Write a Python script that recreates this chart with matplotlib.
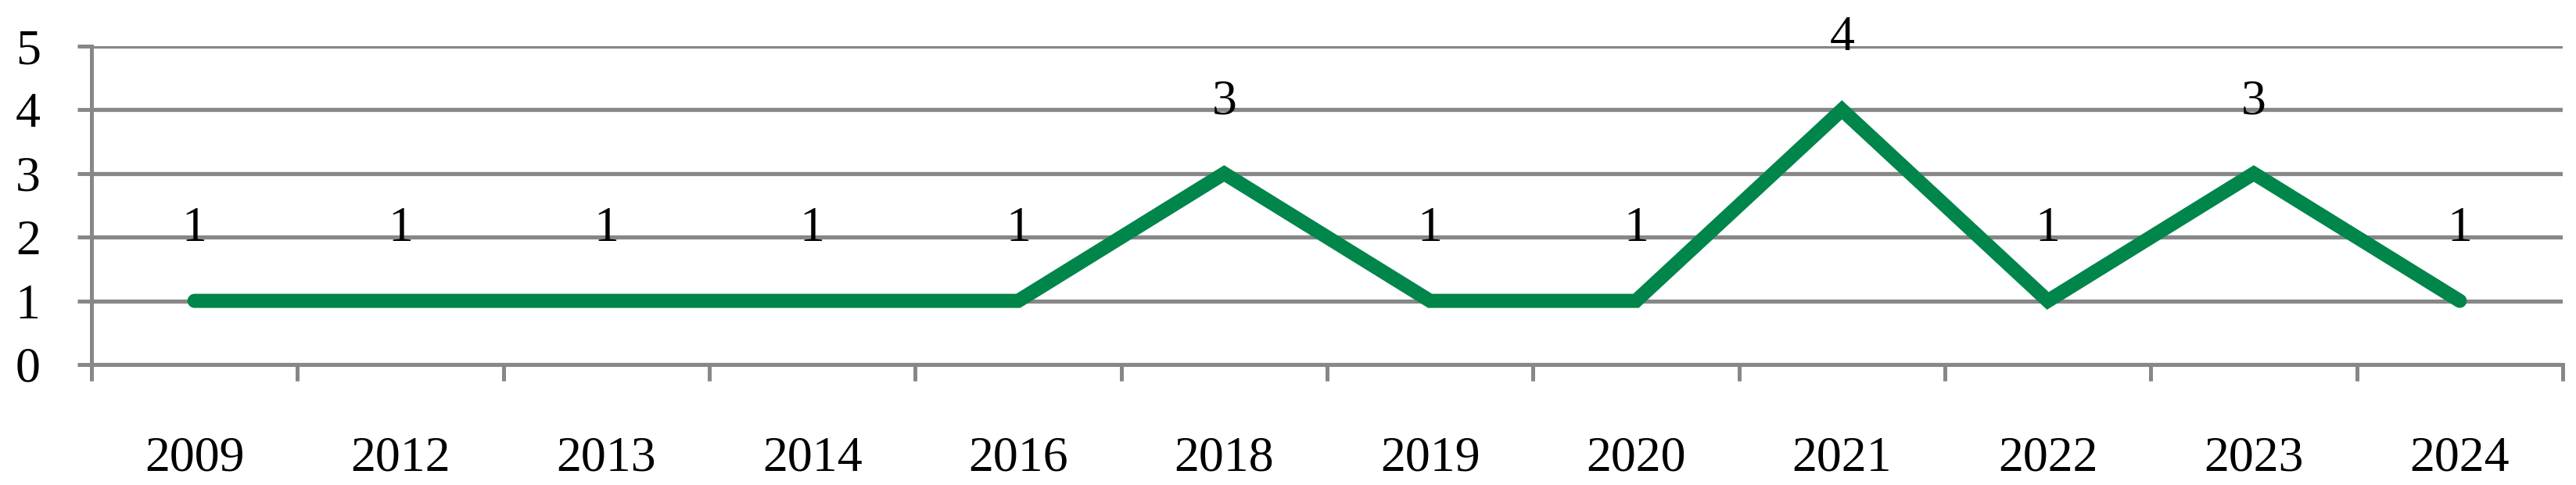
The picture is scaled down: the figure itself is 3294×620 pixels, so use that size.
import matplotlib.pyplot as plt
import numpy as np

# Data
years = ['2009', '2012', '2013', '2014', '2016', '2018', '2019', '2020', '2021', '2022', '2023', '2024']
counts = [1, 1, 1, 1, 1, 3, 1, 1, 4, 1, 3, 1]

plt.rcParams['font.family'] = ['Liberation Serif', 'DejaVu Serif']

grey = '#878787'
green = '#00854A'
fs = 46

fig = plt.figure(figsize=(32.94, 6.2), dpi=100)
ax = fig.add_axes([117/3294, 1 - 466/620, (3277 - 117)/3294, (466 - 59)/620])

x = np.arange(len(years))
ax.plot(x, counts, color=green, lw=13, solid_capstyle='round', solid_joinstyle='miter', zorder=3)

# Data labels above each point
for xi, v in zip(x, counts):
    ax.annotate(str(v), (xi, v), xytext=(0, 55), textcoords='offset points',
                ha='center', va='baseline', fontsize=fs, color='black')

ax.set_xlim(-0.5, len(years) - 0.5)
ax.set_ylim(0, 5)

# Category boundaries as major ticks, labels on minor ticks
ax.set_xticks(np.arange(-0.5, len(years)))
ax.set_xticklabels([])
ax.set_xticks(x, minor=True)
ax.set_xticklabels(years, minor=True)
ax.tick_params(axis='x', which='major', length=15, width=3.6, color=grey)
ax.tick_params(axis='x', which='minor', length=0, pad=66, labelsize=fs)

ax.set_yticks(range(0, 6))
ax.tick_params(axis='y', length=13, width=3.6, color=grey, pad=34, labelsize=fs)

ax.yaxis.grid(True, color=grey, lw=3.8)
ax.set_axisbelow(True)

for s in ['top', 'right']:
    ax.spines[s].set_visible(False)
for s in ['left', 'bottom']:
    ax.spines[s].set_color(grey)
    ax.spines[s].set_linewidth(3.6)

fig.savefig('out.png', dpi=100)
